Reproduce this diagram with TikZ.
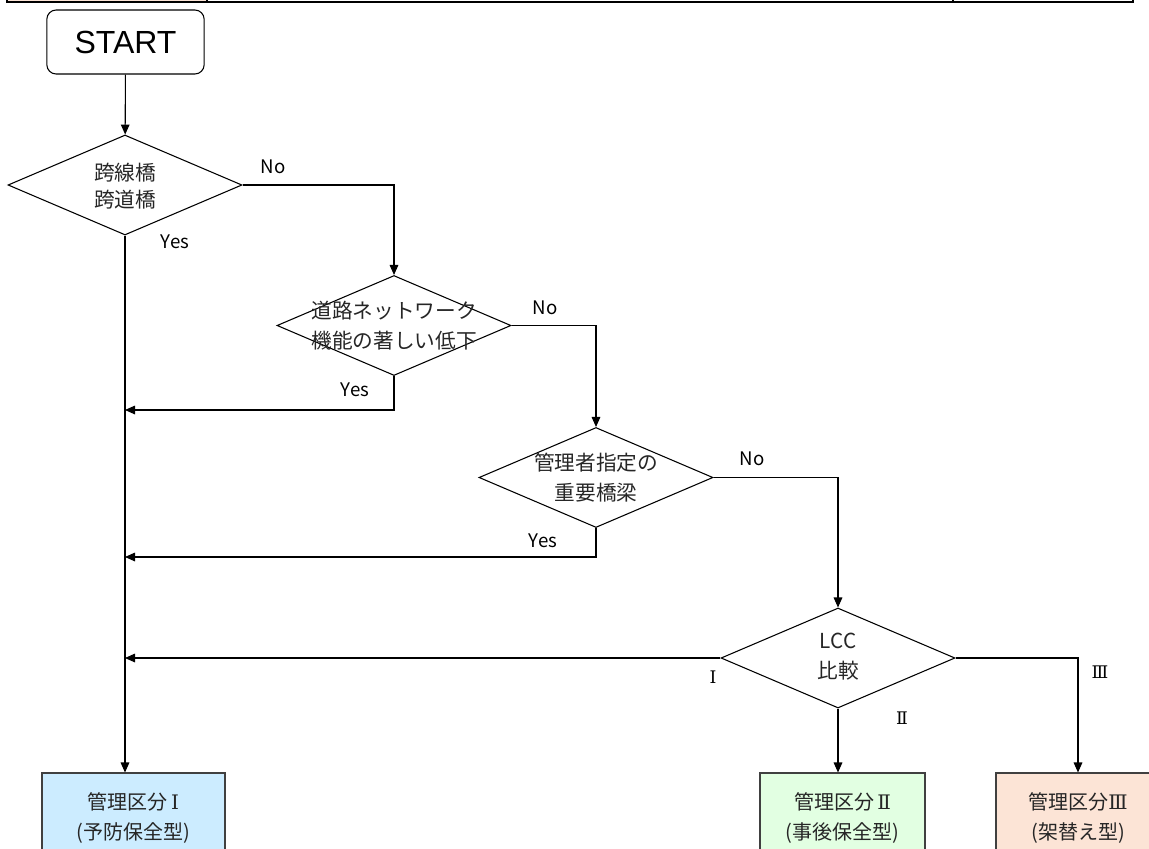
\documentclass[tikz,border=0pt]{standalone}
\usepackage{fontspec}
\setmainfont{Noto Sans CJK JP}
\newfontfamily\startfont{Liberation Sans}
\newfontfamily\romfont{DejaVu Serif}
\usetikzlibrary{positioning}
\usetikzlibrary{shapes.geometric,arrows.meta}
\definecolor{kubunblue}{RGB}{204,236,255}
\definecolor{kubungreen}{RGB}{226,255,226}
\definecolor{kubunpeach}{RGB}{252,228,214}
\tikzset{%
  startbox/.style={rectangle,rounded corners=7pt,draw,line width=0.8pt,
    minimum width=118pt,minimum height=48pt,font=\startfont\fontsize{24}{26}\selectfont},
  decision/.style={diamond,draw,line width=0.8pt,minimum width=175.5pt,
    minimum height=75pt,inner sep=0pt},
  qtext/.style={align=center,text=black!85,font=\fontsize{15.5}{22.5}\selectfont},
  kubunbox/.style={rectangle,draw=black!75,line width=0.8pt,minimum height=67.5pt,
    align=center,text=black!85,font=\fontsize{15}{21.75}\selectfont},
  answer/.style={font=\fontsize{14}{16}\selectfont,inner sep=0pt},
  numeral/.style={font=\romfont\fontsize{13}{16}\selectfont,inner sep=0pt},
  flow/.style={line width=0.8pt,-{Triangle[length=7.5pt,width=6.5pt]}}
}
\begin{document}
\begin{tikzpicture}[x=0.75pt,y=-0.75pt]
    \useasboundingbox (0,0) rectangle (1149,849);
    \clip (0,0) rectangle (1149,849);
    % table row above the chart
    \fill[kubunpeach] (8,-3) rectangle (207,2);
    \draw[line width=1.5pt] (7,-6) -- (7,2) -- (1133,2) -- (1133,-6);
    \draw[line width=1pt] (207,-6) -- (207,2) (953,-6) -- (953,2);
    % nodes
    \node[startbox] (start) at (125.5,42) {START};
    \node[decision] (q1) at (125,185) {};
    \node[qtext,font=\fontsize{15.5}{20.5}\selectfont] (q1t) at (125,186) {跨線橋\\跨道橋};
    \node[decision] (q2) at (394,325.5) {};
    \node[qtext] (q2t) at (394,325.5) {道路ネットワーク\\機能の著しい低下};
    \node[decision] (q3) at (596,477.5) {};
    \node[qtext] (q3t) at (596,477.5) {管理者指定の\\重要橋梁};
    \node[decision] (lcc) at (838,658) {};
    \node[qtext] (lcct) at (838,657) {LCC\\比較};
    \node[kubunbox,fill=kubunblue,minimum width=137.25pt] (kubun1) at (133.5,818) {管理区分\,{\romfont Ⅰ}\\(予防保全型)};
    \node[kubunbox,fill=kubungreen,minimum width=123.75pt] (kubun2) at (842.5,818) {管理区分\,{\romfont Ⅱ}\\(事後保全型)};
    \node[kubunbox,fill=kubunpeach,minimum width=123pt] (kubun3) at (1078,818) {管理区分{\romfont Ⅲ}\\(架替え型)};
    \coordinate (j1) at (125,410);
    \coordinate (j2) at (125,557);
    \coordinate (j3) at (125,658);
    % connectors
    \draw[flow] (start) -- (q1);
    \draw[flow] (q1.south) -- (q1.south |- kubun1.north);
    \draw[flow] (q1.east) -| (q2.north);
    \draw[flow] (q2.south) |- (j1);
    \draw[flow] (q2.east) -| (q3.north);
    \draw[flow] (q3.south) |- (j2);
    \draw[flow] (q3.east) -| (lcc.north);
    \draw[flow] (lcc.west) -- (j3);
    \draw[flow] (lcc.south) -- (lcc.south |- kubun2.north);
    \draw[flow] (lcc.east) -| (kubun3.north);
    % answers
    \node[answer] (no1) at (273,167) {No};
    \node[answer] (yes1) at (175,242) {Yes};
    \node[answer] (no2) at (545,308) {No};
    \node[answer] (yes2) at (355,390) {Yes};
    \node[answer] (no3) at (752,459) {No};
    \node[answer] (yes3) at (543,541) {Yes};
    \node[numeral] (r1) at (713,677) {Ⅰ};
    \node[numeral] (r2) at (902,718) {Ⅱ};
    \node[numeral] (r3) at (1100,672) {Ⅲ};
\end{tikzpicture}
\end{document}
